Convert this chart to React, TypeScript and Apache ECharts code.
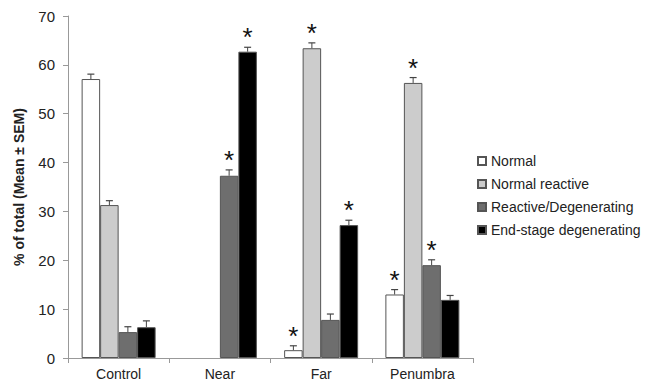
import React, { useEffect, useRef } from "react";
import * as echarts from "echarts";

const categories = ["Control", "Near", "Far", "Penumbra"];
const seriesNames = ["Normal", "Normal reactive", "Reactive/Degenerating", "End-stage degenerating"];
const normal = [57.1, 0, 1.6, 13.0];
const normalReactive = [31.3, 0, 63.4, 56.3];
const reactiveDeg = [5.3, 37.3, 7.8, 19.0];
const endStage = [6.3, 62.7, 27.2, 11.9];
const semNormal = [1.0, 0, 0.9, 1.0];
const semNormalReactive = [0.9, 0, 1.1, 1.1];
const semReactiveDeg = [1.1, 1.2, 1.2, 1.1];
const semEndStage = [1.3, 0.9, 1.0, 0.9];
const starNormal = [false, false, true, true];
const starNormalReactive = [false, false, true, true];
const starReactiveDeg = [false, true, false, true];
const starEndStage = [false, true, true, false];

const colors = ["#ffffff", "#cccccc", "#6e6e6e", "#000000"];
const BAR_W = 18.5;
const FONT = "Liberation Sans, Arial, sans-serif";

export default function App() {
  const ref = useRef<HTMLDivElement>(null);
  useEffect(() => {
    if (!ref.current) return;
    const chart = echarts.init(ref.current, null, { renderer: "svg" });
    const values = [normal, normalReactive, reactiveDeg, endStage];
    const sems = [semNormal, semNormalReactive, semReactiveDeg, semEndStage];
    const stars = [starNormal, starNormalReactive, starReactiveDeg, starEndStage];
    const errData: any[] = [];
    for (let s = 0; s < 4; s++) {
      for (let c = 0; c < categories.length; c++) {
        errData.push([c, s, values[s][c], sems[s][c], stars[s][c] ? 1 : 0]);
      }
    }
    const barSeries = seriesNames.map((name, i) => ({
      name,
      type: "bar",
      data: values[i].map((v) => (v === 0 ? { value: 0, itemStyle: { borderWidth: 0 } } : v)),
      barWidth: BAR_W,
      barGap: "0%",
      itemStyle: { color: colors[i], borderColor: "#555555", borderWidth: 1 },
      silent: true,
    }));
    chart.setOption({
      animation: false,
      textStyle: { fontFamily: FONT },
      grid: { left: 68, top: 16, right: 175, bottom: 28, containLabel: false },
      legend: {
        orient: "vertical",
        left: 472,
        top: 149,
        itemWidth: 8,
        itemHeight: 8,
        itemGap: 9,
        icon: "rect",
        textStyle: { fontSize: 14, color: "#222", fontFamily: FONT },
        data: seriesNames,
      },
      xAxis: {
        type: "category",
        data: categories,
        axisLine: { lineStyle: { color: "#999", width: 1 } },
        axisTick: { show: true, length: 5, lineStyle: { color: "#999" }, alignWithLabel: false },
        axisLabel: { fontSize: 14, color: "#222", margin: 9, fontFamily: FONT },
      },
      yAxis: {
        type: "value",
        min: 0,
        max: 70,
        interval: 10,
        name: "% of total (Mean \u00b1 SEM)",
        nameLocation: "middle",
        nameGap: 42,
        nameTextStyle: { fontSize: 14, fontWeight: "bold", color: "#222", fontFamily: FONT },
        axisLine: { show: true, lineStyle: { color: "#999", width: 1 } },
        axisTick: { show: true, length: 5, lineStyle: { color: "#999" } },
        axisLabel: { fontSize: 15, color: "#222", margin: 13, fontFamily: FONT },
        splitLine: { show: false },
      },
      series: [
        ...barSeries,
        {
          type: "custom",
          silent: true,
          z: 5,
          data: errData,
          renderItem: (params: any, api: any) => {
            const c = api.value(0);
            const s = api.value(1);
            const v = api.value(2);
            const e = api.value(3);
            const star = api.value(4);
            const base = api.coord([c, v]);
            const topP = api.coord([c, v + e]);
            const x = base[0] + (s - 1.5) * BAR_W;
            const children: any[] = [];
            if (e > 0) {
              children.push({
                type: "line",
                shape: { x1: x, y1: base[1], x2: x, y2: topP[1] },
                style: { stroke: "#444", lineWidth: 1 },
              });
              children.push({
                type: "line",
                shape: { x1: x - 3.5, y1: topP[1], x2: x + 3.5, y2: topP[1] },
                style: { stroke: "#444", lineWidth: 1.2 },
              });
            }
            if (star) {
              children.push({
                type: "text",
                x: x,
                y: topP[1] - 23,
                style: {
                  text: "*",
                  fontSize: 26,
                  fontFamily: FONT,
                  fill: "#111",
                  align: "center",
                  verticalAlign: "top",
                },
              });
            }
            return { type: "group", children };
          },
        },
      ],
    });
    return () => chart.dispose();
  }, []);
  return (
    <div
      ref={ref}
      style={{ position: "fixed", left: 0, top: 0, width: 648, height: 386, background: "#fff" }}
    />
  );
}
